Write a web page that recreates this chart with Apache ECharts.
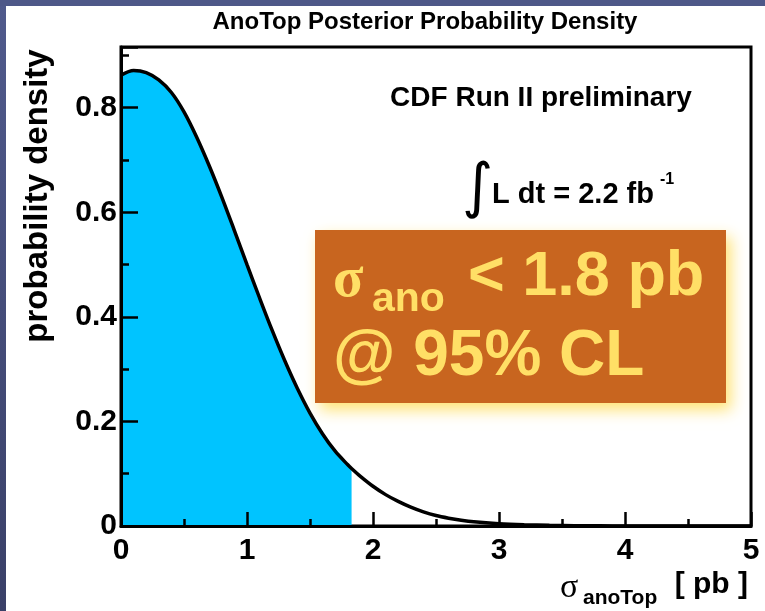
<!DOCTYPE html>
<html><head><meta charset="utf-8">
<script src="https://cdn.jsdelivr.net/npm/echarts@6/dist/echarts.min.js"></script>
<style>html,body{margin:0;padding:0;background:#fff;}#c{width:765px;height:611px;}</style>
</head><body><div id="c"></div>
<script>
// cross section sigma_anoTop [pb]
const sigmaValues = [0, 0.1, 0.2, 0.3, 0.4, 0.5, 0.6, 0.7, 0.8, 0.9, 1.0, 1.1, 1.2, 1.3, 1.4, 1.5, 1.6, 1.7, 1.8, 1.83, 1.9, 2.0, 2.1, 2.2, 2.3, 2.4, 2.5, 2.6, 2.7, 2.8, 3.0, 3.2, 3.4, 3.6, 3.8, 4.0, 4.5, 5.0];
// posterior probability density
const densityValues = [0.862, 0.871, 0.867, 0.853, 0.829, 0.792, 0.744, 0.689, 0.629, 0.565, 0.500, 0.436, 0.374, 0.316, 0.263, 0.216, 0.176, 0.143, 0.117, 0.110, 0.095, 0.076, 0.060, 0.047, 0.036, 0.027, 0.020, 0.015, 0.011, 0.008, 0.0045, 0.0025, 0.0013, 0.0006, 0.0003, 0.0001, 0, 0];
const limit95 = 1.83;
const xTickLabels = ['0', '1', '2', '3', '4', '5'];
const yTickLabels = ['0', '0.2', '0.4', '0.6', '0.8'];
const yMax = 0.916;

const curve = sigmaValues.map((x, i) => [x, densityValues[i]]);
const filled = curve.filter(p => p[0] <= limit95 + 1e-9);

const labelFont = 'Liberation Sans, Arial, Helvetica, sans-serif';
const chart = echarts.init(document.getElementById('c'));
chart.setOption({
  backgroundColor: '#ffffff',
  animation: false,
  grid: { left: 121, right: 14, top: 47, bottom: 85, show: true, borderColor: '#000', borderWidth: 3, backgroundColor: 'transparent' },
  xAxis: {
    type: 'value', min: 0, max: 5, interval: 1, z: 10,
    axisLine: { show: true, lineStyle: { color: '#000', width: 3 } },
    axisTick: { show: true, inside: true, length: 14, lineStyle: { color: '#000', width: 2.5 } },
    minorTick: { show: true, splitNumber: 2, length: 7, lineStyle: { color: '#000', width: 2.5 } },
    splitLine: { show: false },
    axisLabel: {
      margin: 10, color: '#000', fontFamily: labelFont, fontWeight: 'bold', fontSize: 30,
      formatter: v => { const i = Math.round(v); return Math.abs(v - i) < 1e-6 ? xTickLabels[i] : ''; }
    }
  },
  yAxis: [{
    type: 'value', min: 0, max: yMax, interval: 0.2, position: 'left', z: 10,
    axisLine: { show: true, lineStyle: { color: '#000', width: 3 } },
    axisTick: { show: true, inside: true, length: 17, lineStyle: { color: '#000', width: 2.5 } },
    splitLine: { show: false },
    axisLabel: {
      margin: 4, color: '#000', fontFamily: labelFont, fontWeight: 'bold', fontSize: 30,
      formatter: v => { const i = Math.round(v / 0.2); return Math.abs(v / 0.2 - i) < 1e-6 && yTickLabels[i] !== undefined ? yTickLabels[i] : ''; }
    }
  }, {
    type: 'value', min: 0, max: yMax, interval: 0.1, position: 'left', offset: 0, z: 10,
    axisLine: { show: false },
    axisTick: { show: true, inside: true, length: 8, lineStyle: { color: '#000', width: 2.5 } },
    splitLine: { show: false },
    axisLabel: { show: false }
  }],
  series: [{
    type: 'line', data: filled, yAxisIndex: 0, smooth: 0.3, showSymbol: false,
    lineStyle: { width: 0 }, areaStyle: { color: '#00c4ff', opacity: 1 }, z: 2
  }, {
    type: 'line', data: curve, yAxisIndex: 0, smooth: 0.3, showSymbol: false,
    lineStyle: { color: '#000', width: 3.5 }, z: 3
  }],
  graphic: [
    { type: 'rect', left: 0, top: 0, z: 100, shape: { width: 6, height: 611 },
      style: { fill: { type: 'linear', x: 0, y: 0, x2: 0, y2: 1, colorStops: [{ offset: 0, color: '#505a8c' }, { offset: 1, color: '#3a4068' }] } } },
    { type: 'rect', left: 0, top: 0, z: 100, shape: { width: 765, height: 6 }, style: { fill: '#4e5888' } },
    { type: 'text', x: 425, y: 22, z: 100, style: { text: 'AnoTop Posterior Probability Density', fill: '#000', font: 'bold 24px ' + labelFont, align: 'center', verticalAlign: 'middle' } },
    { type: 'text', x: 38, y: 196, rotation: Math.PI / 2, z: 100, style: { text: 'probability density', fill: '#000', font: 'bold 33px ' + labelFont, align: 'center', verticalAlign: 'middle' } },
    { type: 'text', x: 541, y: 98, z: 100, style: { text: 'CDF Run II preliminary', fill: '#000', font: 'bold 28px ' + labelFont, align: 'center', verticalAlign: 'middle' } },
    { type: 'text', x: 462, y: 190, z: 100, style: { text: '\u222B', fill: '#000', font: '60px DejaVu Sans', align: 'left', verticalAlign: 'middle' } },
    { type: 'text', x: 492, y: 195, z: 100, style: { text: 'L dt = 2.2 fb', fill: '#000', font: 'bold 29px ' + labelFont, align: 'left', verticalAlign: 'middle' } },
    { type: 'text', x: 660, y: 180, z: 100, style: { text: '-1', fill: '#000', font: 'bold 16px ' + labelFont, align: 'left', verticalAlign: 'middle' } },
    { type: 'rect', left: 315, top: 230, z: 90, shape: { width: 411, height: 173 },
      style: { fill: '#c8651f', shadowBlur: 14, shadowColor: 'rgba(255,225,110,0.95)', shadowOffsetX: 5, shadowOffsetY: 7 } },
    { type: 'text', x: 333, y: 282, z: 100, style: { text: '\u03C3', fill: '#ffdf66', font: 'bold 56px Liberation Serif, Times New Roman, serif', align: 'left', verticalAlign: 'middle' } },
    { type: 'text', x: 372, y: 300, z: 100, style: { text: 'ano', fill: '#ffdf66', font: 'bold 41px ' + labelFont, align: 'left', verticalAlign: 'middle' } },
    { type: 'text', x: 468, y: 278, z: 100, style: { text: '< 1.8 pb', fill: '#ffdf66', font: 'bold 63px ' + labelFont, align: 'left', verticalAlign: 'middle' } },
    { type: 'text', x: 333, y: 357, z: 100, style: { text: '@ 95% CL', fill: '#ffdf66', font: 'bold 64px ' + labelFont, align: 'left', verticalAlign: 'middle' } },
    { type: 'text', x: 560, y: 588, z: 100, style: { text: '\u03C3', fill: '#000', font: '34px Liberation Serif, Times New Roman, serif', align: 'left', verticalAlign: 'middle' } },
    { type: 'text', x: 583, y: 598, z: 100, style: { text: 'anoTop', fill: '#000', font: 'bold 21px ' + labelFont, align: 'left', verticalAlign: 'middle' } },
    { type: 'text', x: 748, y: 585, z: 100, style: { text: '[ pb ]', fill: '#000', font: 'bold 30px ' + labelFont, align: 'right', verticalAlign: 'middle' } }
  ]
});
</script></body></html>
